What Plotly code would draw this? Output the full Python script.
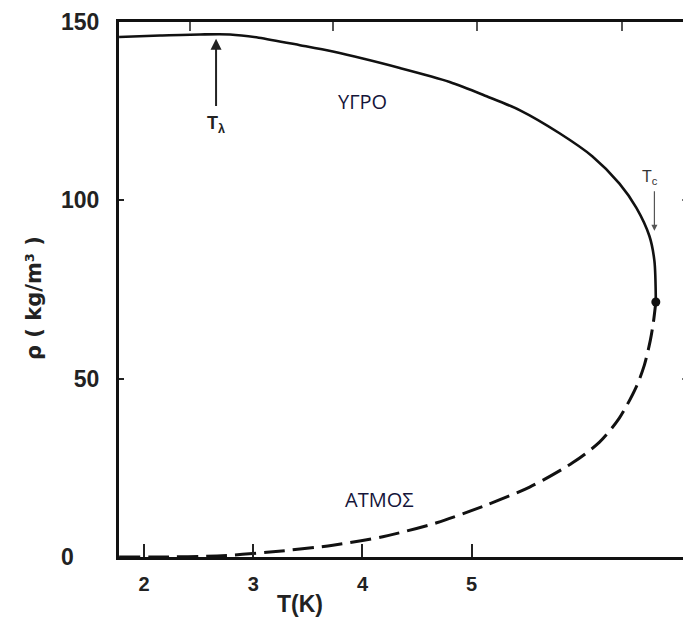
import plotly.graph_objects as go

# Liquid branch (solid)
liq_T = [1.771, 2.146, 2.512, 2.787, 3.050, 3.427, 3.729, 4.342,
         4.799, 5.137, 5.439, 5.805, 6.107, 6.354, 6.509, 6.628, 6.674, 6.687]
liq_rho = [145.8, 146.2, 146.5, 146.5, 145.6, 143.5, 141.7, 137.1,
           133.2, 129.2, 125.3, 118.8, 112.3, 104.7, 97.9, 90.0, 83.0, 71.5]
# Vapour branch (dashed)
vap_T = [1.771, 2.119, 2.668, 3.125, 3.729, 4.186, 4.680, 5.137, 5.531, 5.924,
         6.171, 6.354, 6.509, 6.582, 6.637, 6.665, 6.687]
vap_rho = [0.0, 0.0, 0.3, 1.3, 3.3, 5.7, 9.6, 14.6, 19.6, 26.4,
           32.2, 39.0, 47.8, 53.8, 60.8, 65.9, 71.5]
crit_T = [6.687]
crit_rho = [71.5]

x_ticks = [2, 3, 4, 5]
x_ticktext = ["2", "3", "4", "5"]
y_ticks = [0, 50, 100, 150]
y_ticktext = ["0\u00a0\u00a0\u00a0\u00a0", "50", "100", "150"]
top_ticks = [2.42, 3.73, 5.05, 6.38]

W, H = 683, 609          # page body has an 8px margin
L, T, R, B = 111, 14, 1, 60
pw = W - L - R
ph = H - T - B
PX0, PY0 = 8 + L, 8 + T   # plot-area origin in window pixels

def px(xw):
    return (xw - PX0) / pw

def py(yw):
    return (PY0 + ph - yw) / ph

fig = go.Figure()
fig.add_trace(go.Scatter(x=liq_T, y=liq_rho, mode="lines",
                         line=dict(color="#111", width=2.6, shape="spline", smoothing=0.8),
                         showlegend=False, hoverinfo="skip"))
fig.add_trace(go.Scatter(x=vap_T, y=vap_rho, mode="lines",
                         line=dict(color="#111", width=3, dash="21px,8px", shape="spline", smoothing=0.8),
                         showlegend=False, hoverinfo="skip"))
fig.add_trace(go.Scatter(x=crit_T, y=crit_rho, mode="markers", marker=dict(color="#111", size=9),
                         showlegend=False, hoverinfo="skip"))
fig.add_trace(go.Scatter(x=[None], y=[None], xaxis="x2", yaxis="y2", showlegend=False))

fig.update_layout(
    width=W, height=H,
    margin=dict(l=L, r=R, t=T, b=B),
    paper_bgcolor="white", plot_bgcolor="white",
    xaxis=dict(range=[1.77, 7.0], tickvals=x_ticks, ticktext=x_ticktext, ticks="inside", ticklen=13,
               tickwidth=2, tickcolor="#222", showline=True, linewidth=3, linecolor="#111",
               showgrid=False, zeroline=False, ticklabelstandoff=7,
               tickfont=dict(family="Liberation Sans", size=20, color="#222", weight="bold")),
    yaxis=dict(range=[0, 150], tickvals=y_ticks, ticktext=y_ticktext, ticks="inside", ticklen=5,
               tickwidth=2, tickcolor="#222", showline=True, linewidth=3, linecolor="#111",
               showgrid=False, zeroline=False, ticklabelstandoff=12,
               tickfont=dict(family="Liberation Sans", size=23, color="#222", weight="bold")),
    xaxis2=dict(range=[1.77, 7.0], overlaying="x", side="top", tickvals=top_ticks, showticklabels=False,
                ticks="inside", ticklen=9, tickwidth=2, tickcolor="#555", showline=True, linewidth=3,
                linecolor="#111", showgrid=False, zeroline=False),
    yaxis2=dict(range=[0, 150], overlaying="y", side="right", tickvals=[50, 100], showticklabels=False,
                ticks="inside", ticklen=8, tickwidth=2, tickcolor="#777", showline=True, linewidth=1,
                linecolor="#ccc", showgrid=False, zeroline=False),
    annotations=[
        dict(x=2.659, y=145.3, ax=2.659, ay=126.0, xref="x", yref="y", axref="x", ayref="y",
             showarrow=True, arrowhead=2, arrowsize=1.1, arrowwidth=2, arrowcolor="#222", text=""),
        dict(x=2.66, y=121.4, xref="x", yref="y", showarrow=False, text="T<sub>λ</sub>",
             xanchor="center", yanchor="middle",
             font=dict(family="Liberation Sans", size=18, color="#222", weight="bold")),
        dict(x=6.674, y=91.5, ax=6.674, ay=103.0, xref="x", yref="y", axref="x", ayref="y",
             showarrow=True, arrowhead=2, arrowsize=1, arrowwidth=1.2, arrowcolor="#555", text=""),
        dict(x=6.637, y=106.3, xref="x", yref="y", showarrow=False, text="T<sub>c</sub>",
             xanchor="center", yanchor="middle",
             font=dict(family="Liberation Sans", size=16, color="#333")),
        dict(x=4.003, y=127.6, xref="x", yref="y", showarrow=False, text="ΥΓΡΟ",
             xanchor="center", yanchor="middle",
             font=dict(family="Open Sans", size=20, color="#15153a")),
        dict(x=4.159, y=16.0, xref="x", yref="y", showarrow=False, text="ΑΤΜΟΣ",
             xanchor="center", yanchor="middle",
             font=dict(family="Open Sans", size=20, color="#15153a")),
        dict(x=px(300), y=py(604), xref="paper", yref="paper", showarrow=False, text="T(K)",
             xanchor="center", yanchor="middle",
             font=dict(family="Liberation Sans", size=23, color="#222", weight="bold")),
        dict(x=px(34), y=py(298), xref="paper", yref="paper", showarrow=False, text="ρ ( kg/m³ )",
             xanchor="center", yanchor="middle", textangle=-90,
             font=dict(family="DejaVu Sans", size=21, color="#222", weight="bold")),
    ],
)

fig.write_html("out.html")
